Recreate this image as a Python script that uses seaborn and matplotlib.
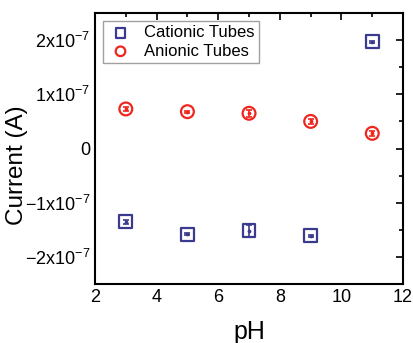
import numpy as np
import pandas as pd
import seaborn as sns
import matplotlib.pyplot as plt
from matplotlib.ticker import MultipleLocator, FuncFormatter

sns.set_style('white')
plt.rcParams['font.family'] = ['Liberation Sans', 'DejaVu Sans']
plt.rcParams['mathtext.default'] = 'regular'
plt.rcParams['text.color'] = 'black'
plt.rcParams['axes.labelcolor'] = 'black'
plt.rcParams['xtick.color'] = 'black'
plt.rcParams['ytick.color'] = 'black'

ph = [3, 5, 7, 9, 11]
cationic = [-1.35e-7, -1.58e-7, -1.52e-7, -1.61e-7, 1.97e-7]
cationic_err = [0.04e-7, 0.02e-7, 0.11e-7, 0.02e-7, 0.02e-7]
anionic = [0.73e-7, 0.68e-7, 0.65e-7, 0.50e-7, 0.28e-7]
anionic_err = [0.04e-7, 0.02e-7, 0.06e-7, 0.04e-7, 0.04e-7]

df = pd.DataFrame({
    'pH': ph * 2,
    'Current': cationic + anionic,
    'err': cationic_err + anionic_err,
    'Sample': ['Cationic Tubes'] * 5 + ['Anionic Tubes'] * 5,
})

blue = '#3c3a8e'
red = '#f0261e'
palette = {'Cationic Tubes': blue, 'Anionic Tubes': red}
markers = {'Cationic Tubes': 's', 'Anionic Tubes': 'o'}

fig = plt.figure(figsize=(4.13, 3.43), dpi=100)
ax = fig.add_axes([0.23, 0.172, 0.746, 0.79])

for name, sub in df.groupby('Sample', sort=False):
    ax.errorbar(sub['pH'], sub['Current'], yerr=sub['err'], fmt='none',
                ecolor=palette[name], elinewidth=1.2, capsize=2.5, capthick=1.2)
    sns.scatterplot(data=sub, x='pH', y='Current', ax=ax, marker=markers[name],
                    s=85, facecolors='none', edgecolor=palette[name],
                    linewidth=1.6, label=name)
    ax.scatter(sub['pH'], sub['Current'], s=3, color=palette[name], zorder=3)

ax.set_xlim(2, 12)
ax.set_ylim(-2.5e-7, 2.5e-7)
ax.xaxis.set_major_locator(MultipleLocator(2))
ax.xaxis.set_minor_locator(MultipleLocator(1))
ax.yaxis.set_major_locator(MultipleLocator(1e-7))
ax.yaxis.set_minor_locator(MultipleLocator(0.5e-7))


def yfmt(v, pos):
    n = int(round(v / 1e-7))
    if n == 0:
        return '0'
    return r'$%dx10^{-7}$' % n


ax.yaxis.set_major_formatter(FuncFormatter(yfmt))
ax.tick_params(which='both', direction='in', top=True, right=True,
               width=1.2, color='black', labelsize=13)
ax.tick_params(which='major', length=5)
ax.tick_params(which='minor', length=3)
for s in ax.spines.values():
    s.set_linewidth(1.5)
    s.set_color('black')

ax.set_xlabel('pH', fontsize=18, labelpad=10)
ax.set_ylabel('Current (A)', fontsize=17.5)
ax.yaxis.set_label_coords(-0.218, 0.44)

leg = ax.legend(loc='upper left', fontsize=12, frameon=True, fancybox=False,
                edgecolor='#888888', handletextpad=0.6, borderpad=0.25,
                labelspacing=0.2, markerscale=0.75, handlelength=1.6,
                borderaxespad=0, bbox_to_anchor=(0.026, 0.97))
leg.get_frame().set_linewidth(1.0)

fig.savefig('out.png', dpi=100)
